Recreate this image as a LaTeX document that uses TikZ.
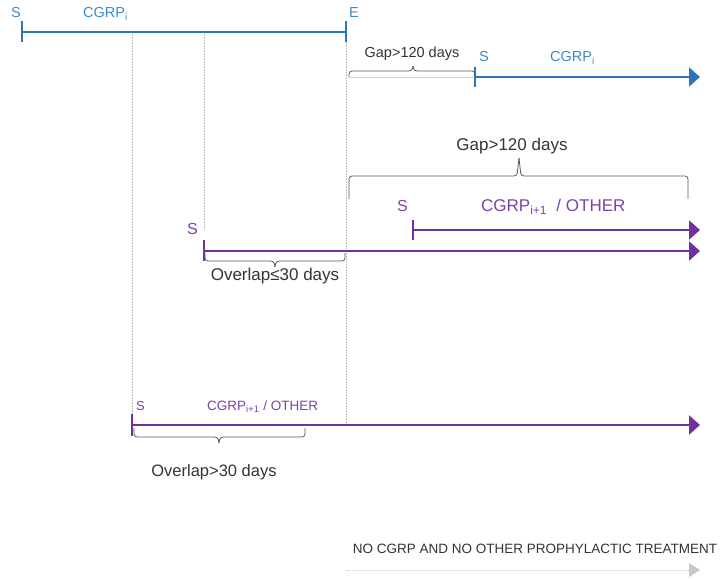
\documentclass[tikz,border=0pt]{standalone}
\usepackage{fontspec}
\setmainfont{Liberation Sans}
\usetikzlibrary{arrows.meta}
\definecolor{cgrpblue}{RGB}{46,117,182}
\definecolor{bluetext}{RGB}{60,138,205}
\definecolor{cgrppurple}{RGB}{112,48,160}
\definecolor{purpletext}{RGB}{125,65,170}
\definecolor{guidegray}{RGB}{185,185,185}
\definecolor{notreat}{RGB}{200,200,200}
\begin{document}
\begin{tikzpicture}[x=1pt, y=-1pt, inner sep=0pt,
    blueline/.style={draw=cgrpblue, line width=2.4pt},
    purpleline/.style={draw=cgrppurple, line width=2.4pt},
    bluearrow/.style={blueline, -{Triangle[length=11pt, width=19pt]}},
    purplearrow/.style={purpleline, -{Triangle[length=11pt, width=19pt]}},
    tickmark/.style={line width=2.8pt},
    guide/.style={draw=guidegray, densely dotted, line width=0.6pt},
    bracket/.style={draw=black!65, line width=0.8pt, rounded corners=3pt},
    bluelabel/.style={text=bluetext, font=\fontsize{14.5}{16}\selectfont},
    purplelabel/.style={text=purpletext, font=\fontsize{17}{19}\selectfont},
    smallpurple/.style={text=purpletext, font=\fontsize{13.5}{15}\selectfont},
    graylabel/.style={text=black!80, font=\fontsize{17}{19}\selectfont},
  ]
  \useasboundingbox (0,0) rectangle (723,580);

  % Coordinates
  \coordinate (s1) at (22,32);
  \coordinate (e1) at (346,32);
  \coordinate (s2) at (475,77);
  \coordinate (e2) at (700,77);
  \coordinate (s3) at (413,230);
  \coordinate (e3) at (700,230);
  \coordinate (s4) at (204,251);
  \coordinate (e4) at (700,251);
  \coordinate (s5) at (132,425);
  \coordinate (e5) at (700,425);
  \coordinate (s6) at (346,570);
  \coordinate (e6) at (700,570);
  \coordinate (gap0) at (349,77);
  \coordinate (guideA) at (132,32);
  \coordinate (guideB) at (204,32);
  \coordinate (guideBend) at (204,230);
  \coordinate (guideCend) at (346,423);

  % Nodes
  \node [bluelabel, anchor=base west] (sTop) at (11,18) {S};
  \node [bluelabel, anchor=base west] (cgrpTop) at (83,18) {CGRP\textsubscript{i}};
  \node [bluelabel, anchor=base west] (eTop) at (349,18) {E};
  \node [graylabel, font=\fontsize{14.5}{16}\selectfont, anchor=base] (gapSmall) at (412,58) {Gap>120 days};
  \node [bluelabel, anchor=base west] (sBlue) at (479,62) {S};
  \node [bluelabel, anchor=base west] (cgrpBlue) at (550,62) {CGRP\textsubscript{i}};
  \node [graylabel, anchor=base] (gapBig) at (512,151) {Gap>120 days};
  \node [purplelabel, font=\fontsize{16}{18}\selectfont, anchor=base west] (sPurpleA) at (397,212) {S};
  \node [purplelabel, anchor=base west] (cgrpPurpleA) at (481,212) {CGRP\textsubscript{i+1}\ \ / OTHER};
  \node [purplelabel, font=\fontsize{16}{18}\selectfont, anchor=base west] (sPurpleB) at (187,235) {S};
  \node [graylabel, anchor=base] (overlapA) at (275,280) {Overlap≤30 days};
  \node [smallpurple, font=\fontsize{13}{15}\selectfont, anchor=base west] (sPurpleC) at (136,410) {S};
  \node [smallpurple, anchor=base west] (cgrpPurpleC) at (207,410) {CGRP\textsubscript{i+1} / OTHER};
  \node [graylabel, font=\fontsize{16.5}{18}\selectfont, anchor=base] (overlapB) at (214,476) {Overlap>30 days};
  \node [graylabel, font=\fontsize{13.5}{15}\selectfont, anchor=base] (noTreat) at (535,553) {NO CGRP AND NO OTHER PROPHYLACTIC TREATMENT};

  % Guides
  \draw [guide] (guideA) -- (s5);
  \draw [guide] (guideB) -- (guideBend);
  \draw [guide] (e1) -- (guideCend);
  \draw [guide] (gap0) -- (s2);

  % Connections
  \draw [blueline] (s1) -- (e1);
  \draw [blueline, tickmark] ([yshift=10.5pt]s1) -- ([yshift=-10.5pt]s1);
  \draw [blueline, tickmark] ([yshift=10.5pt]e1) -- ([yshift=-10.5pt]e1);
  \draw [bluearrow] (s2) -- (e2);
  \draw [blueline, tickmark] ([yshift=10pt]s2) -- ([yshift=-10pt]s2);
  \draw [purplearrow] (s3) -- (e3);
  \draw [purpleline, tickmark] ([yshift=10pt]s3) -- ([yshift=-10pt]s3);
  \draw [purplearrow] (s4) -- (e4);
  \draw [purpleline, tickmark] ([yshift=10.5pt]s4) -- ([yshift=-10.5pt]s4);
  \draw [purplearrow] (s5) -- (e5);
  \draw [purpleline, tickmark] ([yshift=11pt]s5) -- ([yshift=-11pt]s5);
  \draw [draw=notreat, densely dotted, line width=1pt] (s6) -- (e6);
  \fill [notreat] (e6) -- ++(-11,-7) -- ++(0,14) -- cycle;

  % Brackets
  \draw [bracket] (349,77) |- (412,71) -- (413,66);
  \draw [bracket] (413,66) -- (414,71) -| (475,77);
  \draw [bracket] (349,199) |- (517,176) -- (519,158);
  \draw [bracket] (519,158) -- (521,176) -| (688,199);
  \draw [bracket] (205,253) |- (274,261) -- (275,267);
  \draw [bracket] (275,267) -- (276,261) -| (345,253);
  \draw [bracket] (134,428) |- (218,437) -- (219,443);
  \draw [bracket] (219,443) -- (220,437) -| (305,428);
\end{tikzpicture}
\end{document}
